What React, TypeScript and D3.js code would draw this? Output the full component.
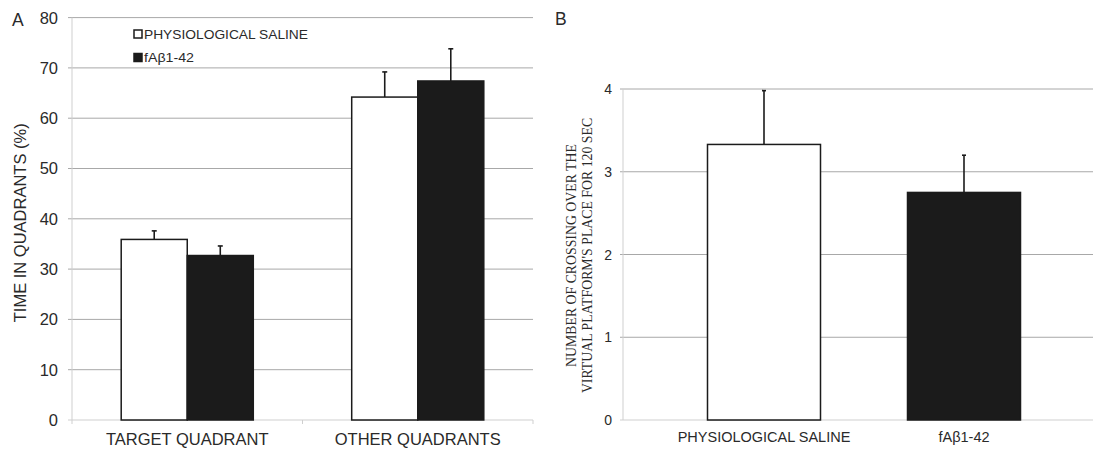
import React from "react";
import * as d3 from "d3";

// ---------- data ----------
const categoriesA = ["TARGET QUADRANT", "OTHER QUADRANTS"];
const groups = ["PHYSIOLOGICAL SALINE", "fAβ1-42"];
const salineA = [35.9, 64.2];
const salineErrA = [1.7, 5.0];
const fabA = [32.7, 67.4];
const fabErrA = [1.9, 6.4];
const ticksA = [0, 10, 20, 30, 40, 50, 60, 70, 80];

const categoriesB = ["PHYSIOLOGICAL SALINE", "fAβ1-42"];
const valuesB = [3.33, 2.75];
const errB = [0.65, 0.45];
const ticksB = [0, 1, 2, 3, 4];

const titleA = "TIME IN QUADRANTS (%)";
const titleB1 = "NUMBER OF CROSSING OVER THE";
const titleB2 = "VIRTUAL PLATFORM'S PLACE FOR 120 SEC";

const GRID = "#a8a8a8";
const AXIS = "#cfcfcf";
const TEXT = "#2a2a2a";
const DARK = "#1b1b1b";
const SANS = "'Liberation Sans', Arial, sans-serif";
const SERIF = "'Liberation Serif', 'Times New Roman', serif";

export default function App() {
  // ---------- Panel A scales ----------
  const xA = d3.scaleBand<string>().domain(categoriesA).range([72, 533]).padding(0);
  const xA1 = d3
    .scaleBand<string>()
    .domain(groups)
    .range([0, xA.bandwidth()])
    .paddingInner(0)
    .paddingOuter(0.745);
  const yA = d3.scaleLinear().domain([0, 80]).range([420, 17.6]);
  const seriesA = [
    { name: groups[0], vals: salineA, errs: salineErrA, fill: "#ffffff" },
    { name: groups[1], vals: fabA, errs: fabErrA, fill: DARK },
  ];

  // ---------- Panel B scales ----------
  const xB = d3
    .scaleBand<string>()
    .domain(categoriesB)
    .range([664, 1064])
    .paddingInner(0.435)
    .paddingOuter(0.2175);
  const yB = d3.scaleLinear().domain([0, 4]).range([420, 89]);
  const fillsB = ["#ffffff", DARK];

  const xAxisA0 = 72;
  const xAxisA1 = 533;
  const xAxisB0 = 623;
  const xAxisB1 = 1093;

  return (
    <svg
      width={1093}
      height={450}
      style={{ position: "absolute", left: 0, top: 0, background: "#fff" }}
      fontFamily={SANS}
    >
      <rect x={0} y={0} width={1093} height={450} fill="#fff" />

      {/* ================= Panel A ================= */}
      <text x={12} y={26} fontSize={17.5} fill={TEXT}>A</text>

      {/* gridlines */}
      {ticksA.filter((t) => t > 0).map((t) => (
        <line key={"ga" + t} x1={xAxisA0 - 4} x2={xAxisA1} y1={yA(t)} y2={yA(t)} stroke={GRID} strokeWidth={1} />
      ))}
      {/* axes */}
      <line x1={xAxisA0} x2={xAxisA0} y1={yA(80)} y2={yA(0)} stroke={AXIS} strokeWidth={1} />
      <line x1={xAxisA0 - 4} x2={xAxisA1} y1={yA(0)} y2={yA(0)} stroke={AXIS} strokeWidth={1} />
      {[xAxisA0, (xA(categoriesA[1]) as number), xAxisA1].map((x, i) => (
        <line key={"tx" + i} x1={x} x2={x} y1={yA(0)} y2={yA(0) + 4} stroke={AXIS} strokeWidth={1} />
      ))}
      {/* tick labels */}
      {ticksA.map((t) => (
        <text key={"la" + t} x={58} y={yA(t)} dy="0.36em" textAnchor="end" fontSize={16.5} fill={TEXT}>
          {t}
        </text>
      ))}
      {/* y title */}
      <text
        transform={`translate(26, ${(yA(0) + yA(80)) / 2 + 4}) rotate(-90)`}
        textAnchor="middle"
        fontSize={16.5}
        fill={TEXT}
      >
        {titleA}
      </text>

      {/* bars */}
      {seriesA.map((s) =>
        categoriesA.map((c, i) => {
          const x = (xA(c) as number) + (xA1(s.name) as number);
          const w = xA1.bandwidth();
          const top = yA(s.vals[i]);
          const errTop = yA(s.vals[i] + s.errs[i]);
          const cx = x + w / 2;
          return (
            <g key={s.name + c}>
              <line x1={cx} x2={cx} y1={top} y2={errTop} stroke={DARK} strokeWidth={1.6} />
              <line x1={cx - 2.5} x2={cx + 2.5} y1={errTop} y2={errTop} stroke={DARK} strokeWidth={1.6} />
              <rect x={x} y={top} width={w} height={yA(0) - top} fill={s.fill} stroke={DARK} strokeWidth={1.5} />
            </g>
          );
        })
      )}
      {/* category labels */}
      {categoriesA.map((c) => (
        <text
          key={"ca" + c}
          x={(xA(c) as number) + xA.bandwidth() / 2}
          y={445}
          textAnchor="middle"
          fontSize={16.5}
          fill={TEXT}
        >
          {c}
        </text>
      ))}

      {/* legend */}
      {seriesA.map((s, i) => (
        <g key={"lg" + i}>
          <rect x={134} y={30 + i * 23.5} width={8} height={8} fill={s.fill} stroke={DARK} strokeWidth={1.5} />
          <text x={144} y={38.5 + i * 23.5} fontSize={12.5} fill={TEXT} textLength={i === 0 ? 164 : 50} lengthAdjust="spacingAndGlyphs">
            {s.name}
          </text>
        </g>
      ))}

      {/* ================= Panel B ================= */}
      <text x={555} y={25} fontSize={17.5} fill={TEXT}>B</text>

      {ticksB.filter((t) => t > 0).map((t) => (
        <line key={"gb" + t} x1={xAxisB0 - 3} x2={xAxisB1} y1={yB(t)} y2={yB(t)} stroke={GRID} strokeWidth={1} />
      ))}
      <line x1={xAxisB0} x2={xAxisB0} y1={yB(4)} y2={yB(0)} stroke={AXIS} strokeWidth={1} />
      <line x1={xAxisB0 - 3} x2={xAxisB1} y1={yB(0)} y2={yB(0)} stroke={AXIS} strokeWidth={1} />
      {ticksB.map((t) => (
        <text key={"lb" + t} x={612} y={yB(t)} dy="0.36em" textAnchor="end" fontSize={14} fill={TEXT}>
          {t}
        </text>
      ))}
      <text
        transform={`translate(576, ${(yB(0) + yB(4)) / 2 + 1}) rotate(-90)`}
        textAnchor="middle"
        fontSize={13.8}
        fontFamily={SERIF}
        fill={TEXT}
      >
        {titleB1}
      </text>
      <text
        transform={`translate(592, ${(yB(0) + yB(4)) / 2 + 1}) rotate(-90)`}
        textAnchor="middle"
        fontSize={13.8}
        fontFamily={SERIF}
        fill={TEXT}
      >
        {titleB2}
      </text>

      {categoriesB.map((c, i) => {
        const x = xB(c) as number;
        const w = xB.bandwidth();
        const top = yB(valuesB[i]);
        const errTop = yB(valuesB[i] + errB[i]);
        const cx = x + w / 2;
        return (
          <g key={"b" + c}>
            <line x1={cx} x2={cx} y1={top} y2={errTop} stroke={DARK} strokeWidth={1.6} />
            <line x1={cx - 2} x2={cx + 2} y1={errTop} y2={errTop} stroke={DARK} strokeWidth={1.6} />
            <rect x={x} y={top} width={w} height={yB(0) - top} fill={fillsB[i]} stroke={DARK} strokeWidth={1.5} />
            <text x={cx} y={442} textAnchor="middle" fontSize={14.5} fill={TEXT}>
              {c}
            </text>
          </g>
        );
      })}
    </svg>
  );
}
